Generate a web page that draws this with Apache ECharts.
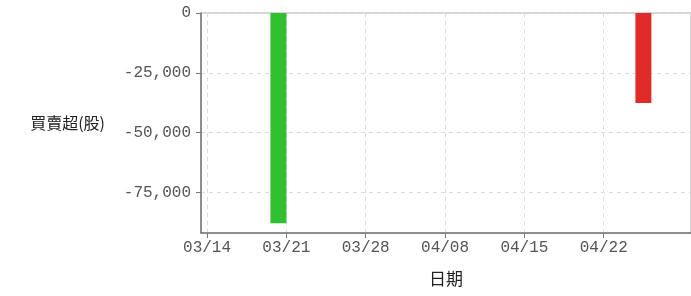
<!DOCTYPE html>
<html>
<head>
<meta charset="utf-8">
<script src="https://cdn.jsdelivr.net/npm/echarts@6/dist/echarts.min.js"></script>
<style>
  html, body { margin: 0; padding: 0; background: #fff; }
  #chart { width: 691px; height: 296px; }
</style>
</head>
<body>
<div id="chart"></div>
<script>
// 交易日
const dates = ['03/14', '03/15', '03/18', '03/19', '03/20', '03/21', '03/22', '03/25', '03/26', '03/27',
  '03/28', '03/29', '04/01', '04/02', '04/03', '04/08', '04/09', '04/10', '04/11', '04/12',
  '04/15', '04/16', '04/17', '04/18', '04/19', '04/22', '04/23', '04/24', '04/25', '04/26']
// 買賣超 (股)
const greenVals = [0, 0, 0, 0, -87800, 0, 0, 0, 0, 0, 0, 0, 0, 0, 0, 0, 0, 0, 0, 0, 0, 0, 0, 0, 0, 0, 0, 0, 0, 0]
const redVals = [0, 0, 0, 0, 0, 0, 0, 0, 0, 0, 0, 0, 0, 0, 0, 0, 0, 0, 0, 0, 0, 0, 0, 0, 0, 0, 0, -37600, 0, 0]
const xTicks = [0, 5, 10, 15, 20, 25]
const yTicks = [0, -25000, -50000, -75000]

const chart = echarts.init(document.getElementById('chart'))

// bar i fills the span between day i and day i+1
const toPoints = (vals) => vals.map((v, i) => [i + 0.5, v]).filter(p => p[1] !== 0)

const labelFont = { color: '#555', fontSize: 16, fontFamily: 'Liberation Mono' }
const nameFont = { color: '#222', fontSize: 16, fontFamily: 'Noto Sans CJK TC' }

chart.setOption({
  animation: false,
  grid: {
    left: 201, top: 13, right: -2, bottom: 63,
    show: true, borderColor: '#aaa', borderWidth: 1
  },
  xAxis: {
    type: 'value',
    min: -0.38,
    max: 30.5,
    name: '日期',
    nameLocation: 'middle',
    nameGap: 37,
    nameTextStyle: { ...nameFont, fontSize: 17 },
    axisLine: { show: true, onZero: false, lineStyle: { color: '#777', width: 1.5 } },
    axisTick: { show: true, length: 5, customValues: xTicks, lineStyle: { color: '#777' } },
    axisLabel: { ...labelFont, margin: 7, customValues: xTicks, formatter: v => dates[v] },
    splitLine: { show: true, customValues: xTicks, lineStyle: { color: '#ddd', type: [4, 4] } }
  },
  yAxis: {
    type: 'value',
    min: -91900,
    max: 0,
    name: '買賣超(股)',
    nameLocation: 'middle',
    nameRotate: 0,
    nameGap: 96,
    nameTextStyle: nameFont,
    axisLine: { show: true, onZero: false, lineStyle: { color: '#777', width: 1.5 } },
    axisTick: { show: true, length: 5, customValues: yTicks, lineStyle: { color: '#777' } },
    axisLabel: {
      ...labelFont, margin: 10, customValues: yTicks,
      formatter: v => v === 0 ? '0' : '-' + Math.abs(v).toLocaleString('en-US')
    },
    splitLine: { show: true, customValues: yTicks, lineStyle: { color: '#ddd', type: [4, 4] } }
  },
  series: [
    {
      type: 'bar',
      barWidth: 16,
      data: toPoints(greenVals),
      itemStyle: { color: '#2fbf2f' }
    },
    {
      type: 'bar',
      barWidth: 16,
      barGap: '-100%',
      data: toPoints(redVals),
      itemStyle: { color: '#e02b2b' }
    }
  ]
})
</script>
</body>
</html>
